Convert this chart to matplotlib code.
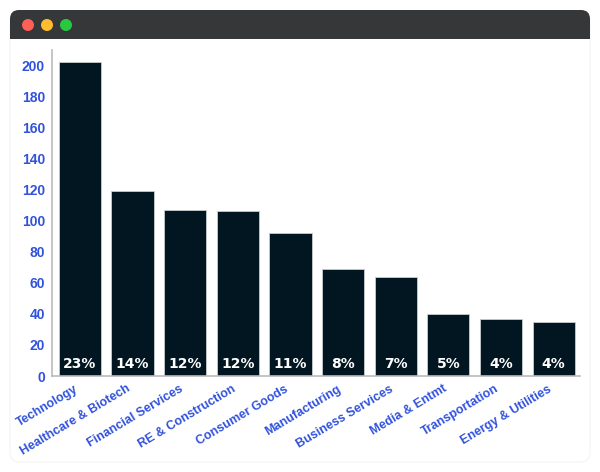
import numpy as np
import matplotlib.pyplot as plt
import matplotlib.transforms as mtransforms
from matplotlib.patches import FancyBboxPatch, Circle

# data
categories = ["Technology", "Healthcare & Biotech", "Financial Services", "RE & Construction",
              "Consumer Goods", "Manufacturing", "Business Services", "Media & Entmt",
              "Transportation", "Energy & Utilities"]
counts = [202, 119, 107, 106, 92, 69, 64, 40, 37, 35]
share_labels = ["23%", "14%", "12%", "12%", "11%", "8%", "7%", "5%", "4%", "4%"]

bar_color = "#011621"
label_blue = "#3152dc"

plt.rcParams['font.family'] = ['Liberation Sans', 'DejaVu Sans']

fig = plt.figure(figsize=(6, 4.72), dpi=100)
fig.patch.set_facecolor("white")

# window frame
W, H = 600, 472
frame = fig.add_axes([0, 0, 1, 1], zorder=0)
frame.set_xlim(0, W)
frame.set_ylim(H, 0)
frame.axis("off")
frame.add_patch(FancyBboxPatch((10, 12), 580, 450, boxstyle="round,pad=0,rounding_size=10",
                               facecolor="white", edgecolor="#f4f4f4", lw=0.8))
frame.add_patch(FancyBboxPatch((10, 10), 580, 29, boxstyle="round,pad=0,rounding_size=9",
                               facecolor="#363739", edgecolor="none"))
frame.add_patch(plt.Rectangle((10, 25), 580, 14, facecolor="#363739", edgecolor="none"))
for cx, col in [(28, "#fe5f57"), (47, "#febc2e"), (66, "#28c840")]:
    frame.add_patch(Circle((cx, 25), 6, facecolor=col, edgecolor="none"))

# chart
ax = fig.add_axes([52 / W, 1 - 376 / H, (580 - 52) / W, (376 - 50) / H], zorder=1)
ax.set_facecolor("none")
x = np.arange(len(categories))
ax.bar(x, counts, width=0.8, color=bar_color, edgecolor="#c8cccf", linewidth=0.6, zorder=2)
for xi, s in zip(x, share_labels):
    ax.text(xi, 3.5, s, ha="center", va="bottom", color="white", fontsize=10,
            fontweight="bold", family="DejaVu Sans", zorder=3)

ax.set_xlim(-0.53, 9.5)
ax.set_ylim(0, 210)
ax.set_yticks(range(0, 201, 20))
ax.set_xticks(x)
ax.set_xticklabels(categories, rotation=31, ha="right", rotation_mode="anchor")
for sp in ["top", "right"]:
    ax.spines[sp].set_visible(False)
for sp in ["left", "bottom"]:
    ax.spines[sp].set_color("#bbbbbb")
    ax.spines[sp].set_linewidth(1.2)
ax.tick_params(axis="both", length=0, colors=label_blue, labelsize=10)
ax.tick_params(axis="y", pad=5)
ax.tick_params(axis="x", pad=5)
for t in ax.get_yticklabels():
    t.set_fontweight("bold")
shift = mtransforms.ScaledTranslation(-6 / 100, 0, fig.dpi_scale_trans)
for t in ax.get_xticklabels():
    t.set_fontweight("bold")
    t.set_fontsize(9)
    t.set_transform(t.get_transform() + shift)

plt.savefig("out.png", dpi=100)
plt.close()
